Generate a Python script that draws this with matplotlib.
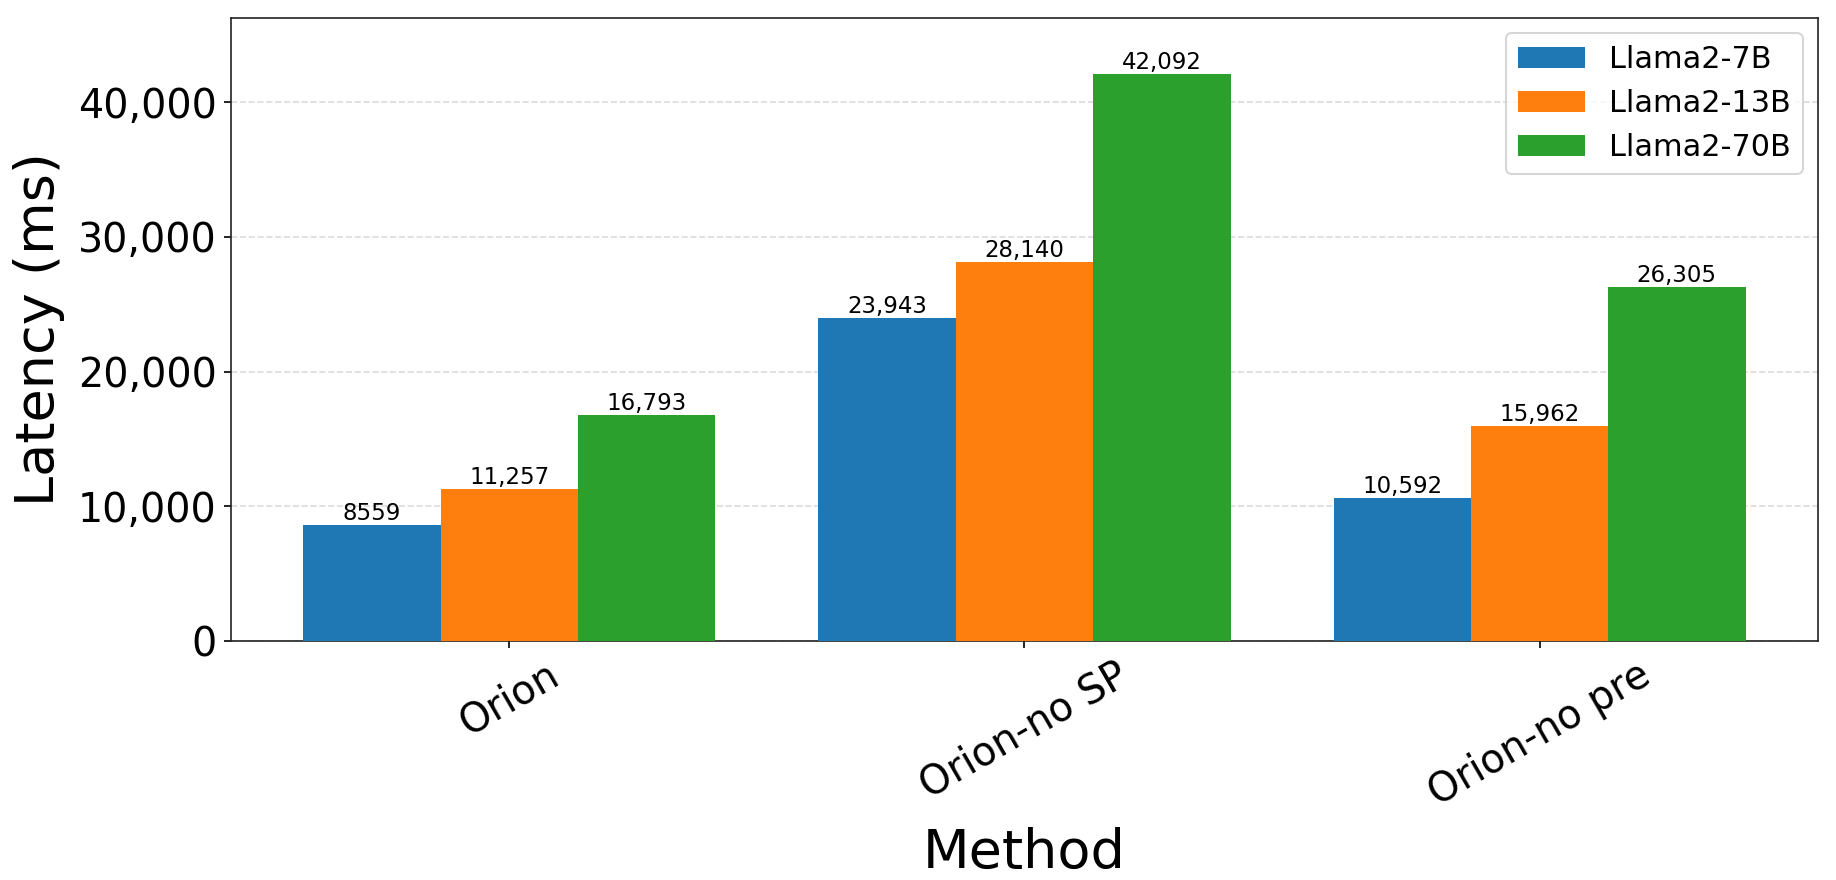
import matplotlib
matplotlib.use("Agg")
import matplotlib.pyplot as plt
import numpy as np
from matplotlib.ticker import FuncFormatter

methods = ["Orion", "Orion-no SP", "Orion-no pre"]
models = ["Llama2-7B", "Llama2-13B", "Llama2-70B"]
llama7b = [8559, 23943, 10592]
llama13b = [11257, 28140, 15962]
llama70b = [16793, 42092, 26305]
colors = ["#1f77b4", "#ff7f0e", "#2ca02c"]

series = [llama7b, llama13b, llama70b]

fig = plt.figure(figsize=(12.24, 5.8667), dpi=150)
ax = fig.add_axes([0.126, 0.272, 0.864, 0.708])

x = np.arange(len(methods))
width = 0.8 / 3
for i, (vals, name, c) in enumerate(zip(series, models, colors)):
    pos = x + (i - 1) * width
    bars = ax.bar(pos, vals, width, label=name, color=c, zorder=3)
    for b, v in zip(bars, vals):
        txt = f"{v:,}" if v >= 10000 else str(v)
        ax.text(b.get_x() + b.get_width() / 2, v, txt, ha="center", va="bottom",
                fontsize=11, zorder=4)

ax.set_ylim(0, max(llama70b) * 1.1)
ax.set_xticks(x)
ax.set_xticklabels(methods, rotation=30, ha="center", fontsize=19)
ax.yaxis.set_major_formatter(FuncFormatter(lambda v, p: f"{int(v):,}"))
ax.tick_params(axis="y", labelsize=19)
ax.set_xlabel("Method", fontsize=26, labelpad=6)
ax.set_ylabel("Latency (ms)", fontsize=26, labelpad=6)
ax.grid(axis="y", linestyle="--", color="#cccccc", alpha=0.7, zorder=0)
for s in ax.spines.values():
    s.set_color("#222222")
ax.legend(loc="upper right", fontsize=14.5, handlelength=2.2)

fig.savefig("out.png", dpi=150)
